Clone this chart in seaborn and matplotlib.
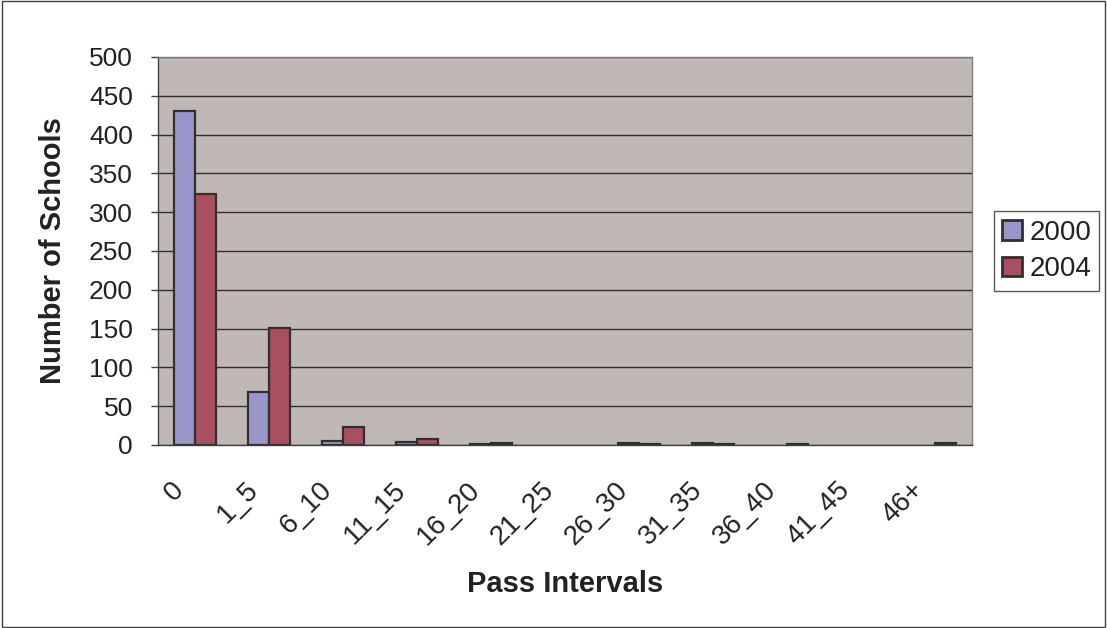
import matplotlib
matplotlib.use("Agg")
import matplotlib.pyplot as plt
import matplotlib.transforms as mtransforms
import seaborn as sns
import pandas as pd
import numpy as np

intervals = ["0", "1_5", "6_10", "11_15", "16_20", "21_25", "26_30",
             "31_35", "36_40", "41_45", "46+"]
schools_2000 = [431, 68, 5, 4, 1, 0, 2, 2, 0, 0, 0]
schools_2004 = [323, 151, 23, 8, 2, 0, 1, 1, 1, 0, 3]
years = ["2000", "2004"]
colors = ["#9B96C9", "#A8505F"]

df = pd.DataFrame({
    "interval": intervals * 2,
    "count": schools_2000 + schools_2004,
    "year": [years[0]] * len(intervals) + [years[1]] * len(intervals),
})

sns.set_style("white")
plt.rcParams["font.family"] = ["Liberation Sans", "DejaVu Sans"]

fig = plt.figure(figsize=(11.07, 6.28), dpi=100)
ax = fig.add_axes([158 / 1107, 1 - 445 / 628, (972 - 158) / 1107, (445 - 57) / 628])
ax.set_facecolor("#C0B8B5")

sns.barplot(data=df, x="interval", y="count", hue="year", order=intervals,
            hue_order=years, palette=colors, width=0.57, edgecolor="#303030",
            linewidth=1.6, saturation=1, ax=ax, zorder=3)

# empty categories leave no visible outline
for bar in ax.patches:
    if bar.get_height() == 0:
        bar.set_linewidth(0)

ax.set_ylim(0, 500)
ax.set_xlim(-0.5, len(intervals) - 0.5)
ax.set_yticks(np.arange(0, 501, 50))
ax.yaxis.grid(True, color="#303030", linewidth=1.0, zorder=0)
ax.set_axisbelow(True)

ax.set_xticks(np.arange(len(intervals)))
ax.set_xticklabels(intervals, rotation=45, ha="right", va="top",
                   rotation_mode="anchor", fontsize=20, color="#222222")
ax.tick_params(axis="x", which="major", length=0, pad=23)
shift = mtransforms.ScaledTranslation(-24 / 100, 0, fig.dpi_scale_trans)
for lbl in ax.get_xticklabels():
    lbl.set_transform(lbl.get_transform() + shift)
ax.set_xticks(np.arange(-0.5, len(intervals)), minor=True)
ax.tick_params(axis="x", which="minor", length=9, width=1, color="#404040", direction="out")
ax.tick_params(axis="y", labelsize=19, labelcolor="#222222", length=5, width=1,
               color="#404040", direction="out", left=True, pad=13)

for side in ["top", "right"]:
    ax.spines[side].set_color("#808080")
    ax.spines[side].set_linewidth(1)
for side in ["left", "bottom"]:
    ax.spines[side].set_color("#404040")
    ax.spines[side].set_linewidth(1)

ax.set_xlabel("Pass Intervals", fontsize=21, fontweight="bold", color="#222222")
ax.set_ylabel("Number of Schools", fontsize=21, fontweight="bold", color="#222222")
ax.xaxis.set_label_coords(0.5, (445 - 570) / 388)
ax.yaxis.set_label_coords((67 - 158) / 814, 0.5)

handles, labels = ax.get_legend_handles_labels()
leg = ax.legend(handles, labels, loc="center left",
                bbox_to_anchor=((994 - 158) / 814, (445 - 251) / 388),
                fontsize=20, frameon=True, fancybox=False, edgecolor="#303030",
                handlelength=0.72, handleheight=0.72, handletextpad=0.25,
                borderpad=0.3, labelspacing=0.38, borderaxespad=0)
leg.get_frame().set_linewidth(1)
for h in leg.legend_handles:
    h.set_edgecolor("#303030")
    h.set_linewidth(2)
for t in leg.get_texts():
    t.set_color("#222222")

fig.patches.append(plt.Rectangle((0.002, 0.002), 0.996, 0.996, transform=fig.transFigure,
                                 fill=False, edgecolor="#404040", linewidth=1))

fig.savefig("out.png", dpi=100, facecolor="white")
